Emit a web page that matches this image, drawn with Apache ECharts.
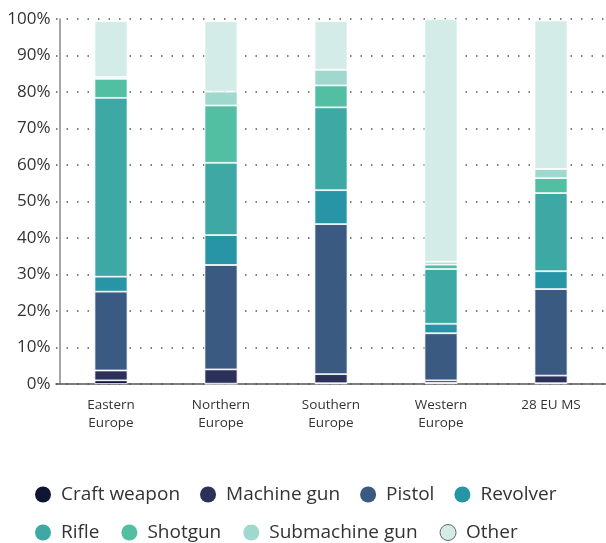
<!DOCTYPE html>
<html>
<head>
<meta charset="utf-8">
<script src="https://cdn.jsdelivr.net/npm/echarts@6/dist/echarts.min.js"></script>
<style>html,body{margin:0;padding:0;background:#fff;}#c{width:606px;height:543px;}</style>
</head>
<body>
<div id="c"></div>
<script>
var categories = ['Eastern\nEurope', 'Northern\nEurope', 'Southern\nEurope', 'Western\nEurope', '28 EU MS'];
var craftWeapon   = [1.0, 0.1, 0.2, 0.3, 0.2];
var machineGun    = [2.7, 3.9, 2.5, 0.7, 2.1];
var pistol        = [21.6, 28.6, 41.1, 12.9, 23.7];
var revolver      = [4.1, 8.2, 9.3, 2.6, 4.9];
var rifle         = [49.0, 19.8, 22.7, 15.0, 21.4];
var shotgun       = [5.2, 15.7, 6.0, 1.2, 4.1];
var submachineGun = [0.5, 3.8, 4.3, 0.8, 2.5];
var other         = [15.3, 19.3, 13.3, 66.4, 40.7];
var yTicks = ['0%', '10%', '20%', '30%', '40%', '50%', '60%', '70%', '80%', '90%', '100%'];

var seriesNames = ['Craft weapon', 'Machine gun', 'Pistol', 'Revolver', 'Rifle', 'Shotgun', 'Submachine gun', 'Other'];
var seriesData = [craftWeapon, machineGun, pistol, revolver, rifle, shotgun, submachineGun, other];
var colors = ['#0f1535', '#2c3159', '#3b5a82', '#2795a6', '#3ea9a4', '#52bfa3', '#9fd8ce', '#d4ece7'];

var FONT = 'Open Sans';
var chart = echarts.init(document.getElementById('c'), null, {renderer: 'canvas'});

function legendData(names) {
  return names.map(function (n) {
    if (n === 'Other') return {name: n, itemStyle: {borderColor: '#666', borderWidth: 1}};
    return {name: n};
  });
}
var legendBase = {
  left: 35, padding: 0, icon: 'circle', itemWidth: 16, itemHeight: 16,
  itemStyle: {borderWidth: 0},
  textStyle: {fontFamily: FONT, fontSize: 19, color: '#333', padding: [0, 0, 0, 5]},
  selectedMode: false
};

chart.setOption({
  animation: false,
  color: colors,
  grid: {left: 56, right: -2, top: 19, bottom: 159, containLabel: false},
  legend: [
    Object.assign({}, legendBase, {top: 485, itemGap: 20, data: legendData(seriesNames.slice(0, 4))}),
    Object.assign({}, legendBase, {top: 523, itemGap: 22, data: legendData(seriesNames.slice(4))})
  ],
  xAxis: {
    type: 'category', data: categories,
    axisLine: {lineStyle: {color: '#555', width: 1.5}},
    axisTick: {show: false},
    axisLabel: {fontFamily: FONT, fontSize: 13.5, color: '#333', lineHeight: 18, margin: 12}
  },
  yAxis: {
    type: 'value', min: 0, max: 100, interval: 10, offset: -3.5,
    axisLine: {show: true, lineStyle: {color: '#888', width: 1.5}},
    axisTick: {show: false},
    axisLabel: {fontFamily: FONT, fontSize: 17, color: '#333', margin: 9,
      formatter: function (v) { return yTicks[Math.round(v / 10)]; }},
    splitLine: {show: true, lineStyle: {color: '#555', width: 1.5, type: [1.5, 9]}}
  },
  series: seriesNames.map(function (n, i) {
    return {
      name: n, type: 'bar', stack: 'total', data: seriesData[i], barWidth: 33,
      itemStyle: {color: colors[i], borderColor: '#fff', borderWidth: 0.8}
    };
  })
});
</script>
</body>
</html>
